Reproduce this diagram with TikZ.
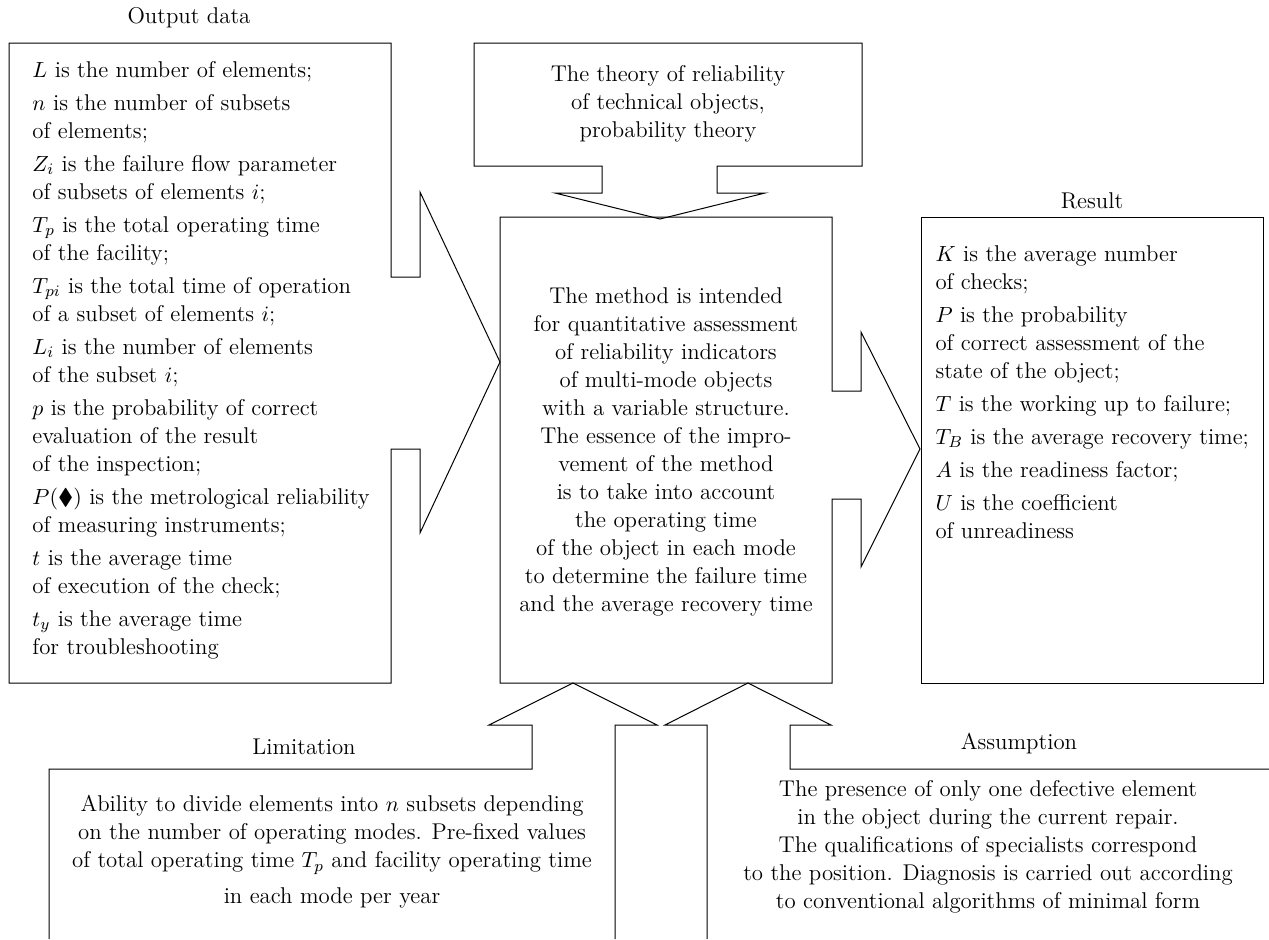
\documentclass[tikz,border=0pt]{standalone}
\usepackage{amsmath}
\usepackage{amssymb}
\usepackage{tikz}

\begin{document}
\begin{tikzpicture}[x=0.5pt, y=-0.5pt, line width=0.5pt,
    txt/.style={font=\fontsize{11.4}{14}\selectfont, inner sep=0pt},
    ctxt/.style={txt, align=center},
    ltxt/.style={txt, align=left, anchor=north west}]
    \useasboundingbox (0,0) rectangle (1269,939);

    \draw (9,43) -- (391,43) -- (391,277) -- (420,277) -- (420,192) -- (500,362) -- (420,533) -- (420,449) -- (391,449) -- (391,683) -- (9,683) -- cycle;
    \draw (474,43) -- (862,43) -- (862,166) -- (717,166) -- (717,193) -- (765,193) -- (660,219) -- (555,193) -- (602,193) -- (602,166) -- (474,166) -- cycle;
    \draw (500,217) -- (832,217) -- (832,391) -- (861,391) -- (861,332) -- (920,449) -- (861,567) -- (861,499) -- (832,499) -- (832,683) -- (500,683) -- cycle;
    \draw (921,217) rectangle (1263,683);
    \draw (49,939) -- (49,769) -- (532,769) -- (532,725) -- (489,725) -- (573,683) -- (657,725) -- (615,725) -- (615,939);
    \draw (707,939) -- (707,725) -- (665,725) -- (748,683) -- (831,725) -- (790,725) -- (790,769) -- (1269,769);

    \node[txt] (outlbl) at (189,18) {Output data};
    \node[txt] (reslbl) at (1092,201) {Result};
    \node[txt] (limlbl) at (304,747) {Limitation};
    \node[txt] (asslbl) at (1019,744) {Assumption};

    \node[ltxt] (outdata) at (32,61) {$L$ is the number of elements;\\[2.5pt]
        $n$ is the number of subsets\\ of elements;\\[2.5pt]
        $Z_i$ is the failure flow parameter\\ of subsets of elements $i$;\\[2.5pt]
        $T_p$ is the total operating time\\ of the facility;\\[2.5pt]
        $T_{pi}$ is the total time of operation\\ of a subset of elements $i$;\\[2.5pt]
        $L_i$ is the number of elements\\ of the subset $i$;\\[2.5pt]
        $p$ is the probability of correct\\ evaluation of the result\\ of the inspection;\\[2.5pt]
        $P(\blacklozenge)$ is the metrological reliability\\ of measuring instruments;\\[2.5pt]
        $t$ is the average time\\ of execution of the check;\\[2.5pt]
        $t_y$ is the average time\\ for troubleshooting};

    \node[ctxt] (theory) at (668,104) {The theory of reliability\\ of technical objects,\\ probability theory};

    \node[ctxt] (method) at (666,452) {The method is intended\\ for quantitative assessment\\ of reliability indicators\\
        of multi-mode objects\\ with a variable structure.\\ The essence of the impro-\\ vement of the method\\
        is to take into account\\ the operating time\\ of the object in each mode\\ to determine the failure time\\
        and the average recovery time};

    \node[ltxt] (result) at (935,245) {$K$ is the average number\\ of checks;\\[2.5pt]
        $P$ is the probability\\ of correct assessment of the\\ state of the object;\\[2.5pt]
        $T$ is the working up to failure;\\[2.5pt]
        $T_B$ is the average recovery time;\\[2.5pt]
        $A$ is the readiness factor;\\[2.5pt]
        $U$ is the coefficient\\ of unreadiness};

    \node[ctxt] (limit) at (332,852) {Ability to divide elements into $n$ subsets depending\\
        on the number of operating modes. Pre-fixed values\\
        of total operating time $T_p$ and facility operating time\\[4pt]
        in each mode per year};

    \node[ctxt] (assume) at (988,847) {The presence of only one defective element\\
        in the object during the current repair.\\
        The qualifications of specialists correspond\\
        to the position. Diagnosis is carried out according\\
        to conventional algorithms of minimal form};
\end{tikzpicture}
\end{document}
